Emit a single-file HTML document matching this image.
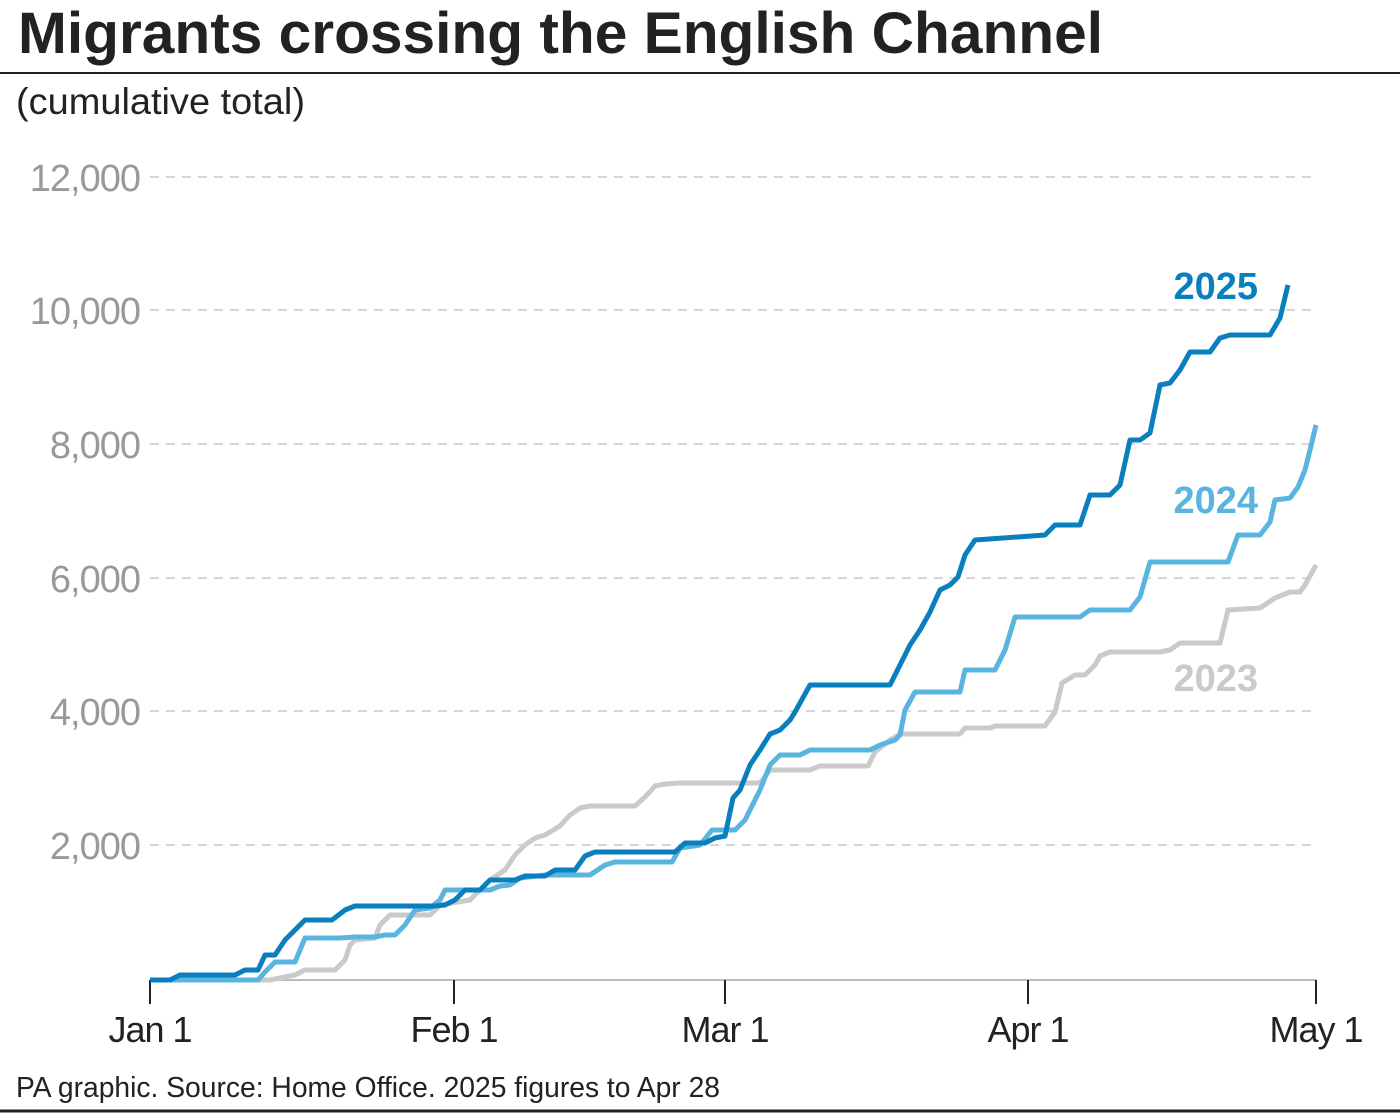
<!DOCTYPE html>
<html><head><meta charset="utf-8"><style>
html,body{margin:0;padding:0;background:#fff;}
body{width:1400px;height:1118px;position:relative;overflow:hidden;font-family:"Liberation Sans",sans-serif;}
</style></head><body>
<svg width="1400" height="1118" xmlns="http://www.w3.org/2000/svg" style="position:absolute;left:0;top:0">
<text x="18" y="53" font-family="Liberation Sans" font-weight="bold" font-size="58" fill="#222" textLength="1085" lengthAdjust="spacingAndGlyphs">Migrants crossing the English Channel</text>
<line x1="0" y1="73" x2="1400" y2="73" stroke="#222" stroke-width="2"/>
<text x="16" y="114" font-family="Liberation Sans" font-size="37" fill="#222" textLength="289" lengthAdjust="spacingAndGlyphs">(cumulative total)</text>
<g stroke="#c8c8c8" stroke-width="1.5" stroke-dasharray="9,7">
<line x1="150" y1="177" x2="1316" y2="177"/>
<line x1="150" y1="310" x2="1316" y2="310"/>
<line x1="150" y1="444" x2="1316" y2="444"/>
<line x1="150" y1="578" x2="1316" y2="578"/>
<line x1="150" y1="711" x2="1316" y2="711"/>
<line x1="150" y1="845" x2="1316" y2="845"/>
</g>
<g font-family="Liberation Sans" font-size="38" fill="#999" text-anchor="end" letter-spacing="-1">
<text x="140" y="191">12,000</text>
<text x="140" y="324">10,000</text>
<text x="140" y="458">8,000</text>
<text x="140" y="592">6,000</text>
<text x="140" y="725">4,000</text>
<text x="140" y="859">2,000</text>
</g>
<line x1="150" y1="980" x2="1316" y2="980" stroke="#bbb" stroke-width="2"/>
<g stroke="#222" stroke-width="2">
<line x1="150" y1="980" x2="150" y2="1004"/><line x1="454" y1="980" x2="454" y2="1004"/>
<line x1="725" y1="980" x2="725" y2="1004"/><line x1="1028" y1="980" x2="1028" y2="1004"/>
<line x1="1316" y1="980" x2="1316" y2="1004"/>
</g>
<g font-family="Liberation Sans" font-size="36" fill="#222" text-anchor="middle" letter-spacing="-1">
<text x="150" y="1042">Jan 1</text><text x="454" y="1042">Feb 1</text><text x="725" y="1042">Mar 1</text><text x="1028" y="1042">Apr 1</text><text x="1316" y="1042">May 1</text>
</g>
<g fill="none" stroke-width="5" stroke-linejoin="round">
<polyline stroke="#cacaca" points="150,980 270,980 295,975 305,970 335,970 345,960 350,945 355,940 375,938 380,925 390,915 430,915 440,905 470,900 490,880 505,870 515,855 525,845 535,838 545,835 560,826 570,815 580,808 590,806 635,806 645,797 655,786 665,784 680,783 760,783 770,770 810,770 820,766 868,766 875,752 890,740 900,734 960,734 965,728 990,728 995,726 1045,726 1055,712 1062,683 1075,675 1085,675 1095,665 1100,656 1110,652 1160,652 1170,650 1180,643 1220,643 1228,610 1260,608 1275,598 1290,592 1300,592 1305,585 1316,565"/>
<polyline stroke="#5ab4e0" points="150,980 258,980 265,972 275,962 295,962 305,938 340,938 355,937 375,937 385,935 395,935 405,925 415,910 430,908 440,900 445,890 490,890 500,886 510,885 520,878 545,875 590,875 605,865 615,862 672,862 680,848 700,845 712,830 735,830 745,820 760,790 770,765 780,755 800,755 810,750 870,750 880,745 895,740 900,735 905,710 915,692 960,692 965,670 995,670 1005,650 1015,617 1080,617 1090,610 1130,610 1140,597 1150,562 1228,562 1238,535 1260,535 1270,522 1275,500 1290,498 1298,487 1305,470 1310,450 1316,425"/>
<polyline stroke="#0a7fbd" points="150,980 170,980 180,975 235,975 245,970 258,970 265,955 275,955 285,940 295,930 305,920 332,920 345,910 355,906 435,906 445,905 455,900 465,890 480,890 490,880 515,880 525,876 545,876 555,870 575,870 585,856 595,852 675,852 685,843 705,843 715,838 725,836 733,798 740,790 750,765 760,750 770,734 780,730 790,720 795,712 810,685 890,685 900,665 910,645 920,630 930,612 940,590 950,585 958,577 965,555 975,540 1045,535 1055,525 1080,525 1090,495 1110,495 1120,485 1130,440 1140,440 1150,433 1160,385 1170,383 1180,370 1190,352 1210,352 1215,345 1220,338 1230,335 1270,335 1280,318 1288,285"/>
</g>
<g font-family="Liberation Sans" font-weight="bold" font-size="38" text-anchor="end">
<text x="1258" y="299" fill="#0a7fbd">2025</text>
<text x="1258" y="513" fill="#5ab4e0">2024</text>
<text x="1258" y="691" fill="#cacaca">2023</text>
</g>
<text x="16" y="1097" font-family="Liberation Sans" font-size="29" fill="#222" textLength="704" lengthAdjust="spacingAndGlyphs">PA graphic. Source: Home Office. 2025 figures to Apr 28</text>
<line x1="0" y1="1111" x2="1400" y2="1111" stroke="#222" stroke-width="3"/>
</svg>
</body></html>
